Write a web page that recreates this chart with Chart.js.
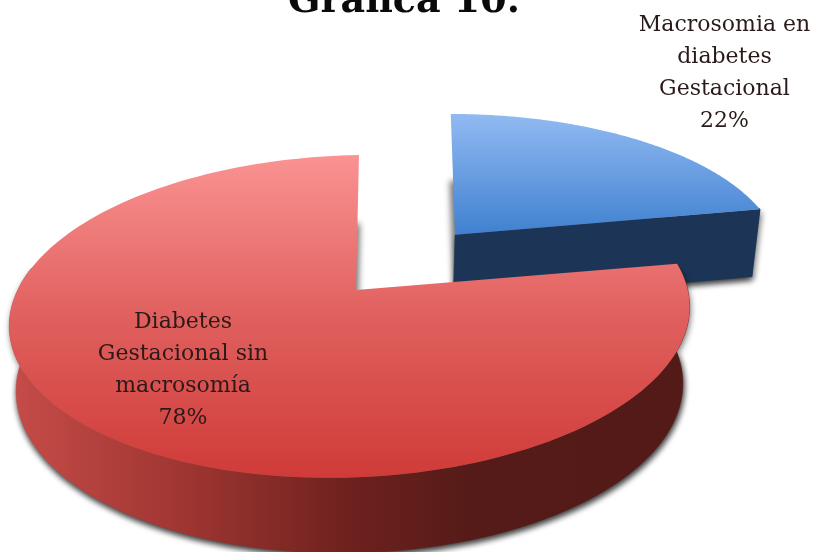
<!DOCTYPE html>
<html>
<head>
<meta charset="utf-8">
<style>html,body{margin:0;padding:0;background:#fff;overflow:hidden}canvas{display:block}</style>
<script src="https://cdn.jsdelivr.net/npm/chart.js@4/dist/chart.umd.js"></script>
</head>
<body>
<canvas id="c" width="816" height="552"></canvas>
<script>
const titleText = 'Gráfica 10.';
const categories = ['Macrosomia en diabetes Gestacional', 'Diabetes Gestacional sin macrosomía'];
const shares = [22, 78];
const sliceLabels = [
  ['Macrosomia en', 'diabetes', 'Gestacional', '22%'],
  ['Diabetes', 'Gestacional sin', 'macrosomía', '78%']
];

// Perspective of the tilted disc: plane coordinates (u, v) on a unit circle map to the canvas.
const view = {y0: 290, sy: 157, p: 0.164, depth: 70, depthFall: 0.07, squeeze: 0.98};
const sliceViews = [
  {x0: 356, sx: 340, shear: 11, roll: 0, dropRoll: 0, hubNudge: 0, explode: 0.485, trim: 0},
  {x0: 351, sx: 335.5, shear: 9.3, roll: 5, dropRoll: 6, hubNudge: 5, explode: 0, trim: 0.049}
];
const labelAnchors = [{x: 724.5, y: 25}, {x: 183, y: 322}];
const labelFont = '22px "DejaVu Serif", serif';

function project(s, u, v, pivot, low) {
  const w = 1 + view.p * v;
  const f = low ? view.squeeze : 1;
  const drop = low ? view.depth / (1 + view.depthFall * v) + s.dropRoll * u : 0;
  return {
    x: s.x0 + f * (s.sx * u + s.shear * (v - pivot)) / w,
    y: view.y0 - (view.sy * v + s.roll * u) / w + drop
  };
}

// Samples the outer rim; onlyFront keeps the part of the rim that faces the viewer.
function rimPoints(arc, s, shift, low, onlyFront) {
  const pts = [];
  const steps = 160;
  const from = arc.startAngle + s.trim;
  for (let i = 0; i <= steps; i++) {
    const a = from + (arc.endAngle - from) * i / steps;
    if (onlyFront && -Math.sin(a) > 0.2) continue;
    pts.push(project(s, Math.cos(a) + shift.u, -Math.sin(a) + shift.v, shift.v, low));
  }
  return pts;
}

function trace(ctx, pts) {
  ctx.beginPath();
  pts.forEach((p, i) => i ? ctx.lineTo(p.x, p.y) : ctx.moveTo(p.x, p.y));
  ctx.closePath();
}

const styles = [
  {
    top(ctx) {
      const g = ctx.createLinearGradient(0, 112, 0, 240);
      g.addColorStop(0, '#93BBF3');
      g.addColorStop(1, '#3C7ECE');
      return g;
    },
    wall() { return '#1C3557'; }
  },
  {
    top(ctx) {
      const g = ctx.createLinearGradient(0, 155, 0, 478);
      g.addColorStop(0, '#FA9392');
      g.addColorStop(0.5, '#E0605E');
      g.addColorStop(1, '#CF3B38');
      return g;
    },
    wall(ctx) {
      const g = ctx.createLinearGradient(10, 0, 690, 0);
      g.addColorStop(0, '#C64C48');
      g.addColorStop(0.25, '#A03632');
      g.addColorStop(0.5, '#6E211E');
      g.addColorStop(0.68, '#551B18');
      g.addColorStop(1, '#531A17');
      return g;
    }
  }
];

// Replaces the flat arc drawing with a tilted slice built from the arc's own angles.
const tiltedPie = {
  id: 'tiltedPie',
  beforeDatasetDraw(chart, args) {
    const ctx = chart.ctx;
    const arcs = chart.getDatasetMeta(args.index).data;
    arcs.forEach((arc, i) => {
      const s = sliceViews[i];
      const mid = (arc.startAngle + arc.endAngle) / 2;
      const shift = {u: s.explode * Math.cos(mid), v: -s.explode * Math.sin(mid)};
      const hubTop = project(s, shift.u, shift.v, shift.v, false);
      const hubLow = project(s, shift.u, shift.v, shift.v, true);
      hubTop.x += s.hubNudge;
      hubLow.x += s.hubNudge;
      const rimTop = rimPoints(arc, s, shift, false, false);
      const rimLow = rimPoints(arc, s, shift, true, false);
      const frontTop = rimPoints(arc, s, shift, false, true);
      const frontLow = rimPoints(arc, s, shift, true, true);
      const solids = [];
      if (frontTop.length > 1) solids.push([...frontTop, ...frontLow.slice().reverse()]);
      // A cut edge is only visible when it turns towards the viewer.
      if (Math.sin(arc.endAngle) < 0 && Math.cos(arc.endAngle) > 0.01) {
        solids.push([hubTop, rimTop[rimTop.length - 1], rimLow[rimLow.length - 1], hubLow]);
      }
      const wall = styles[i].wall(ctx);

      // Soft drop shadow only: the casting shape sits off the canvas.
      ctx.save();
      ctx.translate(-3000, 0);
      ctx.shadowColor = 'rgba(0,0,0,0.55)';
      ctx.shadowBlur = 6;
      ctx.shadowOffsetX = 3001;
      ctx.shadowOffsetY = 3;
      ctx.fillStyle = '#000';
      [[hubLow, ...rimLow], ...solids].forEach(p => { trace(ctx, p); ctx.fill(); });
      ctx.restore();

      ctx.save();
      ctx.fillStyle = wall;
      ctx.strokeStyle = wall;
      ctx.lineWidth = 0.5;
      solids.forEach(p => { trace(ctx, p); ctx.fill(); ctx.stroke(); });
      ctx.fillStyle = styles[i].top(ctx);
      trace(ctx, [hubTop, ...rimTop]);
      ctx.fill();
      ctx.restore();
    });
    return false;
  },
  afterDatasetsDraw(chart) {
    const ctx = chart.ctx;
    ctx.save();
    ctx.font = labelFont;
    ctx.textAlign = 'center';
    ctx.textBaseline = 'middle';
    ctx.fillStyle = '#2A1A1A';
    sliceLabels.forEach((lines, i) => {
      lines.forEach((line, k) => {
        ctx.fillText(line, labelAnchors[i].x, labelAnchors[i].y + k * 32);
      });
    });
    ctx.restore();
  }
};

new Chart(document.getElementById('c'), {
  type: 'pie',
  data: {
    labels: categories,
    datasets: [{data: shares, backgroundColor: ['#4F81BD', '#C0504D'], borderWidth: 0}]
  },
  plugins: [tiltedPie],
  options: {
    responsive: false,
    animation: false,
    events: [],
    layout: {padding: {right: 8}},
    plugins: {
      legend: {display: false},
      tooltip: {enabled: false},
      title: {
        display: true,
        text: titleText,
        color: '#0A0A0A',
        font: {family: '"DejaVu Serif", serif', size: 38, weight: 'bold'},
        padding: {top: -21, bottom: 0}
      }
    }
  }
});
</script>
</body>
</html>
